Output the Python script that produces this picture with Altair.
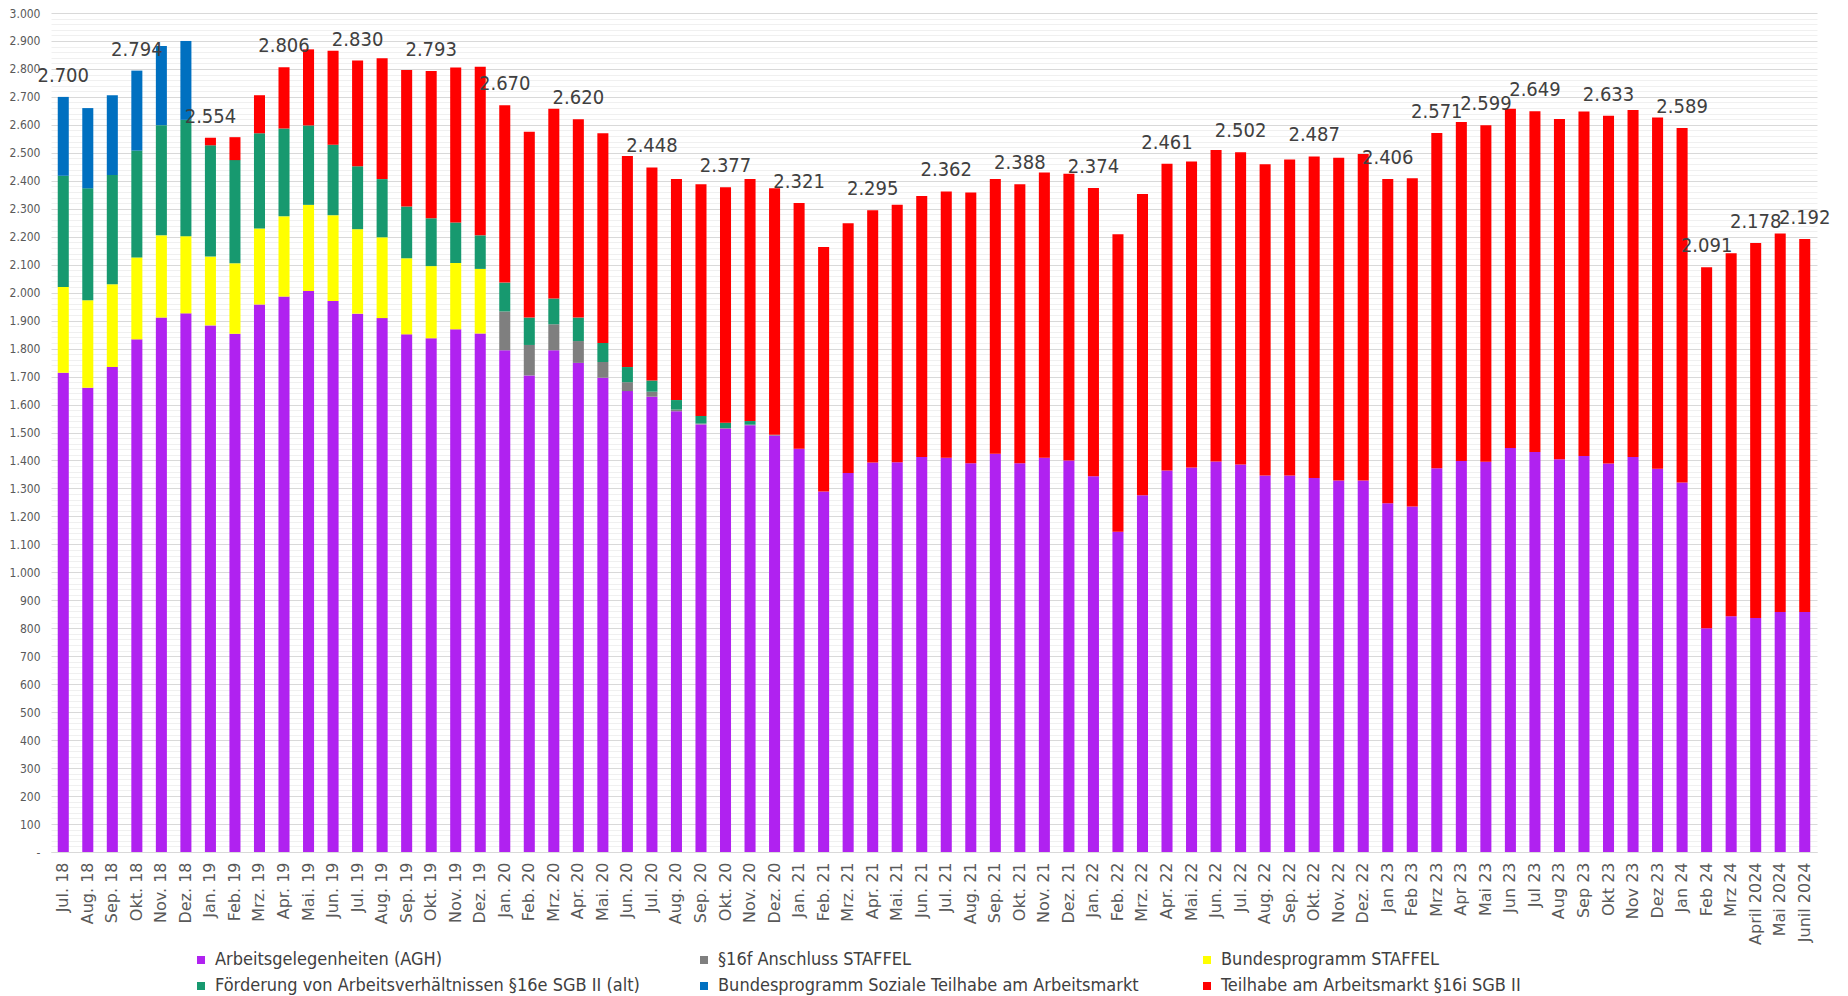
import altair as alt
import pandas as pd

months = [
    "Jul. 18", "Aug. 18", "Sep. 18", "Okt. 18", "Nov. 18", "Dez. 18",
    "Jan. 19", "Feb. 19", "Mrz. 19", "Apr. 19", "Mai. 19", "Jun. 19",
    "Jul. 19", "Aug. 19", "Sep. 19", "Okt. 19", "Nov. 19", "Dez. 19",
    "Jan. 20", "Feb. 20", "Mrz. 20", "Apr. 20", "Mai. 20", "Jun. 20",
    "Jul. 20", "Aug. 20", "Sep. 20", "Okt. 20", "Nov. 20", "Dez. 20",
    "Jan. 21", "Feb. 21", "Mrz. 21", "Apr. 21", "Mai. 21", "Jun. 21",
    "Jul. 21", "Aug. 21", "Sep. 21", "Okt. 21", "Nov. 21", "Dez. 21",
    "Jan. 22", "Feb. 22", "Mrz. 22", "Apr. 22", "Mai. 22", "Jun. 22",
    "Jul. 22", "Aug. 22", "Sep. 22", "Okt. 22", "Nov. 22", "Dez. 22",
    "Jan 23", "Feb 23", "Mrz 23", "Apr 23", "Mai 23", "Jun 23",
    "Jul 23", "Aug 23", "Sep 23", "Okt 23", "Nov 23", "Dez 23",
    "Jan 24", "Feb 24", "Mrz 24", "April 2024", "Mai 2024", "Junil 2024",
]

agh = [
    1714, 1660, 1734, 1833, 1911, 1926,
    1883, 1853, 1958, 1986, 2006, 1970,
    1925, 1909, 1851, 1837, 1869, 1854,
    1794, 1704, 1794, 1749, 1696, 1648,
    1628, 1576, 1529, 1514, 1526, 1489,
    1442, 1289, 1355, 1393, 1394, 1412,
    1410, 1390, 1424, 1390, 1410, 1400,
    1344, 1145, 1276, 1364, 1375, 1396,
    1386, 1346, 1346, 1337, 1328, 1328,
    1247, 1235, 1372, 1398, 1395, 1445,
    1430, 1404, 1416, 1389, 1412, 1370,
    1321, 800, 843, 837, 858, 858,
]

s16f = [
    0, 0, 0, 0, 0, 0,
    0, 0, 0, 0, 0, 0,
    0, 0, 0, 0, 0, 0,
    139, 109, 93, 78, 56, 32,
    18, 6, 3, 2, 2, 3,
] + [0] * 42

staffel = [
    306, 313, 296, 293, 294, 276,
    246, 252, 271, 287, 308, 307,
    302, 289, 272, 258, 237, 231,
] + [0] * 54

s16e_alt = [
    398, 400, 391, 382, 394, 416,
    398, 369, 341, 314, 284, 252,
    225, 208, 185, 171, 145, 120,
    103, 98, 92, 84, 68, 54,
    40, 34, 27, 19, 13, 0,
] + [0] * 42

soziale_teilhabe = [282, 287, 285, 286, 283, 282] + [0] * 66

s16i = [
    0, 0, 0, 0, 0, 0,
    27, 82, 136, 219, 272, 336,
    378, 432, 488, 527, 554, 603,
    634, 664, 679, 709, 750, 755,
    762, 790, 829, 842, 865, 881,
    879, 874, 893, 902, 920, 934,
    952, 968, 982, 998, 1020, 1025,
    1030, 1064, 1077, 1097, 1094, 1114,
    1116, 1113, 1130, 1150, 1154, 1168,
    1159, 1174, 1199, 1212, 1204, 1213,
    1219, 1217, 1232, 1244, 1241, 1256,
    1268, 1291, 1298, 1341, 1354, 1334,
]

labelled_months = [
    "Jul. 18", "Okt. 18", "Jan. 19", "Apr. 19", "Jul. 19", "Okt. 19",
    "Jan. 20", "Apr. 20", "Jul. 20", "Okt. 20", "Jan. 21", "Apr. 21",
    "Jul. 21", "Okt. 21", "Jan. 22", "Apr. 22", "Jul. 22", "Okt. 22",
    "Jan 23", "Mrz 23", "Mai 23", "Jul 23", "Okt 23", "Jan 24",
    "Feb 24", "April 2024", "Junil 2024",
]

series_names = [
    "Arbeitsgelegenheiten (AGH)",
    "§16f Anschluss STAFFEL",
    "Bundesprogramm STAFFEL",
    "Förderung von Arbeitsverhältnissen §16e SGB II (alt)",
    "Bundesprogramm Soziale Teilhabe am Arbeitsmarkt",
    "Teilhabe am Arbeitsmarkt §16i SGB II",
]
series_values = [agh, s16f, staffel, s16e_alt, soziale_teilhabe, s16i]
series_colors = ["#B022F0", "#7F7F7F", "#FFFF00", "#17996F", "#0070C0", "#FF0000"]

y_ticks = list(range(0, 3001, 20))

rows = []
for i, m in enumerate(months):
    for k, (name, vals) in enumerate(zip(series_names, series_values)):
        rows.append({"month": m, "series": name, "order": k, "value": vals[i]})
bars_df = pd.DataFrame(rows)

label_rows = []
for m in labelled_months:
    i = months.index(m)
    total = sum(vals[i] for vals in series_values)
    label_rows.append({"month": m, "total": total,
                       "text": f"{total:,}".replace(",", ".")})
labels_df = pd.DataFrame(label_rows)

COND = "DejaVu Sans Condensed, DejaVu Sans"

x_scale = alt.Scale(domain=months, paddingInner=0.55, paddingOuter=0.275)
y_scale = alt.Scale(domain=[0, 3000], nice=False)

x_axis = alt.Axis(title=None, labelAngle=-90, labelFont="DejaVu Sans",
                  labelFontSize=16, labelColor="#595959", ticks=False,
                  tickSize=0, labelPadding=10, domainColor="#D9D9D9",
                  domainWidth=1, grid=False)
y_axis = alt.Axis(title=None, values=y_ticks,
                  labelExpr="datum.value == 0 ? '-' : (datum.value % 100 == 0 ? replace(format(datum.value, ','), ',', '.') : '')",
                  labelOverlap=False, labelFont=COND,
                  labelFontSize=12, labelColor="#595959", ticks=False,
                  tickSize=0, labelPadding=11, domain=False, grid=True,
                  gridColor={"condition": {"test": "datum.value % 100 == 0", "value": "#D9D9D9"},
                             "value": "#F0F0F0"},
                  gridWidth=1)

bars = alt.Chart(bars_df).mark_bar().encode(
    x=alt.X("month:N", sort=months, scale=x_scale, axis=x_axis),
    y=alt.Y("value:Q", stack="zero", scale=y_scale, axis=y_axis),
    color=alt.Color("series:N",
                    scale=alt.Scale(domain=series_names, range=series_colors),
                    legend=alt.Legend(title=None, orient="none", legendX=141, legendY=938,
                                      direction="horizontal", columns=3, gridAlign="all",
                                      columnPadding=55, rowPadding=8, padding=0,
                                      symbolType="square", symbolSize=64,
                                      symbolStrokeWidth=0, labelFont=COND,
                                      labelFontSize=18, labelColor="#404040",
                                      labelLimit=600, labelOffset=5)),
    order=alt.Order("order:Q", sort="ascending"),
)

texts = alt.Chart(labels_df).mark_text(
    dy=-21, baseline="middle", align="center", font=COND,
    fontSize=20, color="#404040",
).encode(
    x=alt.X("month:N", sort=months, scale=x_scale, axis=x_axis),
    y=alt.Y("total:Q", scale=y_scale, axis=y_axis),
    text="text:N",
)

chart = alt.layer(bars, texts).properties(
    width=1766, height=839,
    autosize=alt.AutoSizeParams(type="none"),
    padding={"left": 43, "top": 5, "right": 15, "bottom": 144},
).configure(background="white").configure_view(stroke=None)

chart.save("out.html", embed_options={"renderer": "svg", "actions": False})
